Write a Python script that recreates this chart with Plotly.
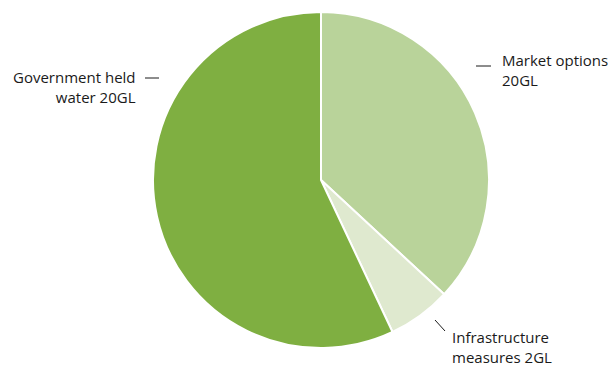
import plotly.graph_objects as go

categories = ["Market options", "Infrastructure measures", "Government held water"]
values = [36.9, 6.1, 57.0]
label_texts = ["Market options<br>20GL", "Infrastructure<br>measures 2GL", "Government held<br>water 20GL"]
colors = ["#b9d39a", "#dfe9cf", "#7faf41"]

# page offset (browser default body margin)
OFF = 8
W, H = 616 - OFF, 369 - OFF

def px(x):
    return (x - OFF) / W

def py(y):
    return 1 - (y - OFF) / H

fig = go.Figure(go.Pie(
    labels=categories,
    values=values,
    sort=False,
    direction="clockwise",
    rotation=0,
    textinfo="none",
    hoverinfo="label+value",
    marker=dict(colors=colors, line=dict(color="white", width=2)),
    domain=dict(x=[px(153), px(489)], y=[py(348), py(12)]),
    showlegend=False,
))

font = dict(family="Open Sans, Noto Sans, sans-serif", size=15, color="#1a1a1a")

fig.add_annotation(x=px(500), y=py(70), xref="paper", yref="paper", text=label_texts[0],
                   showarrow=False, xanchor="left", yanchor="middle", align="left", font=font)
fig.add_annotation(x=px(450), y=0, xref="paper", yref="paper", text=label_texts[1],
                   showarrow=False, xanchor="left", yanchor="bottom", align="left", font=font)
fig.add_annotation(x=px(138), y=py(87), xref="paper", yref="paper", text=label_texts[2],
                   showarrow=False, xanchor="right", yanchor="middle", align="right", font=font)

line = dict(color="#1a1a1a", width=1)
fig.add_shape(type="line", xref="paper", yref="paper", x0=px(476), x1=px(491), y0=py(66), y1=py(66), line=line)
fig.add_shape(type="line", xref="paper", yref="paper", x0=px(145), x1=px(159), y0=py(78), y1=py(78), line=line)
fig.add_shape(type="line", xref="paper", yref="paper", x0=px(435), x1=px(445), y0=py(320), y1=py(331), line=line)

fig.update_layout(
    width=W, height=H,
    margin=dict(l=0, r=0, t=0, b=0),
    paper_bgcolor="white",
    plot_bgcolor="white",
)

fig.write_html("out.html")
